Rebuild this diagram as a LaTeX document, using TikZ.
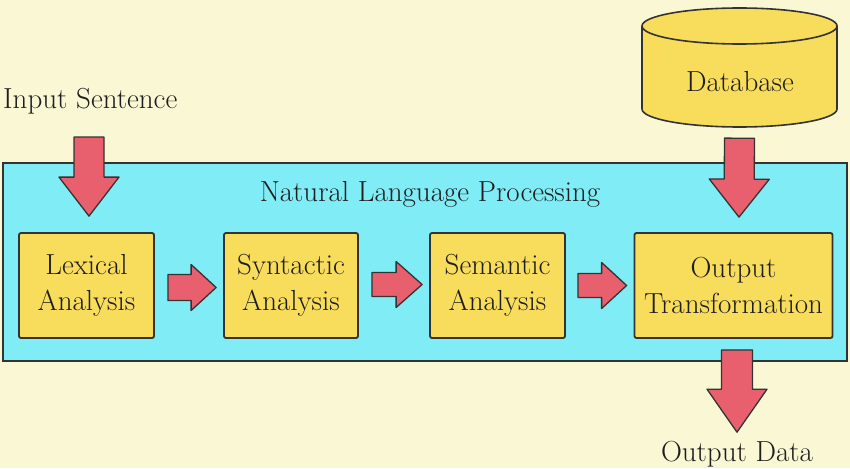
\documentclass[tikz,border=0pt]{standalone}
\usetikzlibrary{calc}
\definecolor{bgc}{HTML}{FAF8D4}
\definecolor{cyanc}{HTML}{80ECF6}
\definecolor{yelc}{HTML}{F8DC5C}
\definecolor{redc}{HTML}{E8606E}
\definecolor{edgec}{HTML}{333333}
\definecolor{txtc}{HTML}{1E1E1E}
\newcommand\barrow[5]{%
  \path ($(#2)!#5!(#1)$) coordinate (hb);
  \draw[blockarrow] ($(#1)!#3!90:(#2)$) -- ($(hb)!#3!-90:(#1)$) -- ($(hb)!#4!-90:(#1)$) -- (#2)
    -- ($(hb)!#4!90:(#1)$) -- ($(hb)!#3!90:(#1)$) -- ($(#1)!#3!-90:(#2)$) -- cycle;}
\begin{document}
\begin{tikzpicture}[x=1pt,y=-1pt,
  every node/.style={text=txtc, font=\fontsize{29}{36}\selectfont},
  container/.style={draw=edgec, line width=1.6pt, fill=cyanc, inner sep=0pt},
  procbox/.style={draw=edgec, line width=1.8pt, fill=yelc, rounded corners=2pt, align=center, inner sep=0pt, minimum height=105pt},
  blockarrow/.style={draw=edgec, line width=1.3pt, fill=redc, line join=round},
  dbshape/.style={draw=edgec, line width=1.6pt, fill=yelc}]
\fill[bgc] (0,0) rectangle (850,468);
\useasboundingbox (0,0) rectangle (850,468);
% container
\node[container, minimum width=844pt, minimum height=198pt] (nlp) at (425,262) {};
\node[anchor=base] (nlptitle) at (430,201) {Natural Language Processing};
% process boxes
\node[procbox, minimum width=135pt] (lex) at (86.5,285.5) {Lexical\\Analysis};
\node[procbox, minimum width=134pt] (syn) at (291,285.5) {Syntactic\\Analysis};
\node[procbox, minimum width=135pt] (sem) at (497.5,285.5) {Semantic\\Analysis};
\node[procbox, minimum width=198pt] (out) at (733.5,285.5) {Output\\Transformation};
% database cylinder
\draw[dbshape] (642,26) -- (642,109) arc (180:360:97.5pt and 18pt) -- (837,26) arc (0:180:97.5pt and 18pt) -- cycle;
\draw[edgec, line width=1.6pt] (642,26) arc (180:360:97.5pt and 18pt);
\node[minimum width=195pt, minimum height=119pt, inner sep=0pt] (db) at (739.5,67.5) {};
\node[anchor=base] (dbtext) at (740,92) {Database};
% labels
\node[anchor=base west, inner sep=0pt] (inlabel) at (3,109) {Input Sentence};
\node[anchor=base] (outlabel) at (737,461) {Output Data};
% arrow end points
\coordinate (i1) at (89,137);
\coordinate (i2) at ($(lex.north)+(2.5,-16)$);
\coordinate (d1) at ($(db.south)+(0,11)$);
\coordinate (d2) at ($(out.north)+(5.5,-15)$);
\coordinate (o1) at ($(out.south)+(3.5,11)$);
\coordinate (o2) at ($(outlabel.north)+(0,-5)$);
\coordinate (a1) at ($(lex.east)+(13,2)$);
\coordinate (a2) at ($(syn.west)+(-7,2)$);
\coordinate (b1) at ($(syn.east)+(13,-1)$);
\coordinate (b2) at ($(sem.west)+(-7,-1)$);
\coordinate (c1) at ($(sem.east)+(12,0)$);
\coordinate (c2) at ($(out.west)+(-7,0)$);
% block arrows
\barrow{i1}{i2}{15pt}{30pt}{39pt}
\barrow{d1}{d2}{15pt}{30pt}{38pt}
\barrow{o1}{o2}{15.5pt}{30pt}{43pt}
\barrow{a1}{a2}{13pt}{23pt}{25pt}
\barrow{b1}{b2}{12pt}{23pt}{26pt}
\barrow{c1}{c2}{12pt}{23pt}{25pt}
\end{tikzpicture}
\end{document}
